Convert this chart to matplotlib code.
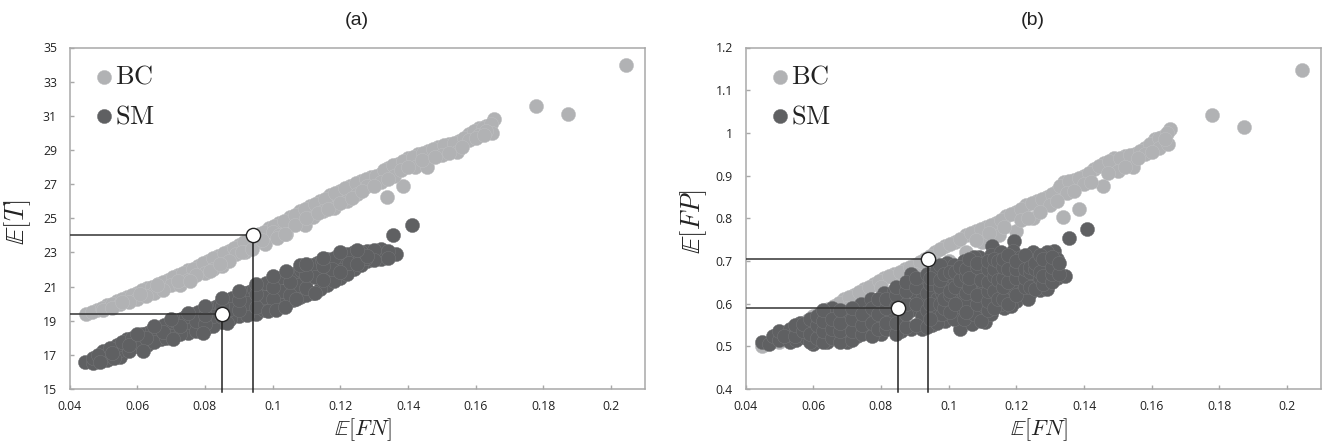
from matplotlib import pyplot as plt

plt.rcParams['mathtext.fontset'] = 'cm'
plt.rcParams['font.family'] = ['Open Sans', 'DejaVu Sans']

x_ticks = [0.04, 0.06, 0.08, 0.1, 0.12, 0.14, 0.16, 0.18, 0.2]
x_labels = ['0.04', '0.06', '0.08', '0.1', '0.12', '0.14', '0.16', '0.18', '0.2']
t_ticks = [15, 17, 19, 21, 23, 25, 27, 29, 31, 33, 35]
fp_ticks = [0.4, 0.5, 0.6, 0.7, 0.8, 0.9, 1, 1.1, 1.2]
fp_labels = ['0.4', '0.5', '0.6', '0.7', '0.8', '0.9', '1', '1.1', '1.2']

# panel (a): E[FN], E[T]
bc_a = [
    (.045, 19.4), (.048, 19.65), (.051, 19.9), (.054, 20.15), (.057, 20.4), (.06, 20.65), (.063, 20.9),
    (.066, 21.15), (.069, 21.4), (.072, 21.7), (.075, 21.95), (.078, 22.2), (.081, 22.5), (.084, 22.8),
    (.087, 23.1), (.09, 23.45), (.093, 23.75), (.096, 24.05), (.099, 24.4), (.102, 24.7), (.105, 25.05),
    (.108, 25.4), (.111, 25.7), (.114, 26.0), (.117, 26.35), (.12, 26.6), (.123, 26.9), (.126, 27.2),
    (.129, 27.4), (.132, 27.6), (.134, 27.95), (.137, 28.2), (.14, 28.5), (.143, 28.75), (.146, 28.95),
    (.149, 29.2), (.152, 29.35), (.155, 29.5), (.158, 29.95), (.161, 30.3), (.163, 30.4), (.1655, 30.8),
    (.0465, 19.5), (.0495, 19.75), (.0525, 20.0), (.0555, 20.25), (.0585, 20.5), (.0615, 20.8), (.0645, 21.0),
    (.0675, 21.25), (.0705, 21.55), (.0735, 21.8), (.0765, 22.05), (.0795, 22.35), (.0825, 22.65), (.0855, 22.95),
    (.0885, 23.25), (.0915, 23.6), (.0945, 23.9), (.0975, 24.2), (.1005, 24.55), (.1035, 24.85), (.1065, 25.2),
    (.1095, 25.55), (.1125, 25.85), (.1155, 26.15), (.1185, 26.45), (.1215, 26.75), (.1245, 27.05), (.1275, 27.3),
    (.1305, 27.5), (.133, 27.8), (.1355, 28.1), (.1385, 28.35), (.1415, 28.6), (.1445, 28.85), (.1475, 29.05),
    (.1505, 29.3), (.1535, 29.4), (.1565, 29.7), (.1595, 30.1), (.162, 30.3), (.1645, 30.5),
    (.05, 19.6), (.055, 20.0), (.06, 20.3), (.065, 20.6), (.07, 21.1), (.0726, 21.1), (.075, 21.4),
    (.08, 21.8), (.085, 22.2), (.0893, 22.9), (.0918, 23.0), (.0977, 23.5), (.095, 23.6), (.1, 24.2),
    (.104, 24.1), (.1095, 24.6), (.112, 25.1), (.115, 25.4), (.118, 25.6), (.122, 26.0), (.125, 26.4),
    (.128, 26.9), (.1337, 26.25), (.1385, 26.9), (.132, 27.1), (.136, 27.5), (.142, 28.0), (.1457, 28.0),
    (.15, 28.7), (.1546, 28.9), (.158, 29.6), (.161, 29.9), (.1647, 30.0), (.163, 30.1),
    (.0525, 19.75), (.0575, 20.1), (.0625, 20.45), (.0675, 20.8), (.072, 21.3), (.0775, 21.65), (.0825, 22.05),
    (.087, 22.5), (.091, 23.0), (.094, 23.2), (.097, 23.7), (.102, 24.0), (.1065, 24.6), (.11, 25.0),
    (.1135, 25.3), (.1165, 25.55), (.12, 25.9), (.1235, 26.2), (.1265, 26.6), (.13, 26.9), (.134, 27.3),
    (.138, 27.8), (.14, 28.0), (.144, 28.4), (.148, 28.6), (.152, 28.8), (.156, 29.2), (.16, 29.7), (.1625, 29.9),
    (.0755, 21.3), (.0815, 21.9), (.0844, 22.3), (.1012, 23.85), (.1036, 24.1), (.0555, 20.1), (.0608, 20.55),
    (.0657, 21.1),
    (.1779, 31.6), (.1873, 31.1), (.2045, 33.95),
]
sm_a = [
    (.0445, 16.6), (.047, 16.5), (.051, 16.7), (.055, 16.9), (.06, 17.5), (.063, 17.6), (.067, 17.9),
    (.07, 18.1), (.075, 18.3), (.08, 18.5), (.085, 18.9), (.09, 19.3), (.095, 19.4), (.1, 19.9),
    (.104, 20.0), (.108, 20.4), (.112, 20.6), (.116, 21.1), (.12, 21.5), (.124, 22.0), (.128, 22.5),
    (.132, 22.6), (.05, 16.95), (.055, 17.3), (.06, 17.8), (.065, 18.2), (.07, 18.5), (.075, 18.9),
    (.08, 19.1), (.085, 19.5), (.09, 19.9), (.095, 20.2), (.1, 20.6), (.105, 20.9), (.11, 21.3),
    (.115, 21.8), (.12, 22.2), (.125, 22.6), (.13, 22.8), (.047, 16.8), (.05, 17.2), (.054, 17.6),
    (.057, 17.9), (.06, 18.1), (.063, 18.3), (.066, 18.6), (.07, 18.9), (.073, 19.1), (.076, 19.4),
    (.08, 19.6), (.083, 19.8), (.086, 20.2), (.09, 20.5), (.093, 20.7), (.096, 21.0), (.1, 21.4),
    (.104, 21.6), (.107, 21.8), (.11, 22.1), (.113, 22.4), (.116, 22.6), (.12, 22.8), (.124, 23.0),
    (.128, 23.1), (.132, 23.2), (.1365, 22.9),
    (.0485, 17.0), (.052, 17.4), (.0555, 17.75), (.0585, 18.0), (.0615, 18.2), (.0645, 18.45), (.068, 18.75),
    (.0715, 19.0), (.0745, 19.25), (.078, 19.5), (.0815, 19.7), (.0845, 20.0), (.088, 20.35), (.0915, 20.6),
    (.0945, 20.85), (.098, 21.2), (.102, 21.5), (.1055, 21.7), (.1085, 21.95), (.1115, 22.25), (.1145, 22.5),
    (.118, 22.7), (.122, 22.9), (.126, 23.05), (.13, 23.15), (.134, 23.1),
    (.049, 16.6), (.053, 16.8), (.0575, 17.2), (.0615, 17.55), (.065, 17.75), (.0685, 18.0), (.0725, 18.2),
    (.0775, 18.4), (.0825, 18.7), (.0875, 19.1), (.0925, 19.35), (.0975, 19.65), (.102, 19.95), (.106, 20.2),
    (.11, 20.5), (.114, 20.85), (.118, 21.3), (.122, 21.75), (.126, 22.25), (.13, 22.55), (.134, 22.7),
    (.0525, 17.1), (.0575, 17.55), (.0625, 18.0), (.0675, 18.35), (.0725, 18.7), (.0775, 19.0), (.0825, 19.3),
    (.0875, 19.7), (.0925, 20.05), (.0975, 20.4), (.1025, 20.75), (.1075, 21.1), (.1125, 21.55), (.1175, 22.0),
    (.1225, 22.4), (.1275, 22.7), (.1, 20.25), (.1, 21.0), (.105, 20.5), (.105, 21.25), (.11, 20.9), (.11, 21.7),
    (.115, 21.4), (.115, 22.2), (.12, 21.85), (.09, 19.6), (.09, 20.2), (.095, 19.8), (.095, 20.55), (.085, 19.2),
    (.085, 19.85), (.08, 18.8), (.08, 19.35), (.125, 22.3), (.128, 22.8),
    (.06, 18.25), (.065, 18.7), (.07, 19.1), (.075, 19.45), (.08, 19.85), (.085, 20.35), (.09, 20.75),
    (.095, 21.15), (.1, 21.6), (.104, 21.9), (.108, 22.25), (.11, 22.3), (.115, 22.7), (.12, 23.0), (.125, 23.15),
    (.0985, 19.55), (.101, 19.65), (.1036, 19.8), (.107, 20.25), (.1124, 20.65), (.0795, 18.3), (.0866, 18.85),
    (.0705, 17.9), (.0617, 17.25),
    (.1355, 24.0), (.1412, 24.6),
]

# panel (b): E[FN], E[FP]
bc_b = [
    (.045, .5), (.048, .515), (.051, .53), (.054, .54), (.057, .555), (.06, .57), (.063, .58), (.066, .595),
    (.069, .61), (.072, .62), (.075, .635), (.078, .645), (.081, .66), (.084, .67), (.087, .68), (.09, .69),
    (.093, .705), (.096, .72), (.099, .735), (.102, .745), (.105, .76), (.108, .77), (.111, .78), (.114, .79),
    (.117, .805), (.12, .815), (.123, .83), (.126, .84), (.129, .85), (.132, .865), (.134, .885), (.137, .89),
    (.14, .9), (.143, .915), (.146, .93), (.149, .94), (.152, .945), (.155, .95), (.158, .965), (.161, .985),
    (.163, .99), (.1655, 1.01),
    (.0465, .507), (.0495, .522), (.0525, .535), (.0555, .548), (.0585, .562), (.0615, .575), (.0645, .588),
    (.0675, .602), (.0705, .615), (.0735, .628), (.0765, .64), (.0795, .652), (.0825, .665), (.0855, .675),
    (.0885, .685), (.0915, .697), (.0945, .712), (.0975, .727), (.1005, .74), (.1035, .752), (.1065, .765),
    (.1095, .775), (.1125, .785), (.1155, .797), (.1185, .81), (.1215, .822), (.1245, .835), (.1275, .845),
    (.1305, .857), (.133, .875), (.1355, .888), (.1385, .895), (.1415, .907), (.1445, .922), (.1475, .935),
    (.1505, .942), (.1535, .947), (.1565, .957), (.1595, .975), (.162, .988), (.1645, 1.0),
    (.1, .7), (.105, .72), (.11, .745), (.115, .76), (.12, .77), (.125, .8), (.13, .83), (.1337, .803),
    (.1384, .822), (.135, .86), (.14, .88), (.1455, .876), (.15, .91), (.1546, .92), (.158, .95), (.162, .965),
    (.1647, .975), (.108, .75), (.112, .765), (.1165, .78), (.1215, .795), (.1235, .8), (.127, .815), (.132, .84),
    (.137, .865), (.142, .885), (.147, .905), (.152, .92), (.156, .94), (.16, .955), (.164, .985),
    (.09, .67), (.095, .69), (.08, .64), (.07, .59), (.06, .55), (.05, .51),
    (.1779, 1.043), (.1873, 1.013), (.2045, 1.147),
]
sm_b = [
    (.045, .51), (.047, .505), (.048, .525), (.05, .515), (.05, .535), (.053, .51), (.053, .54), (.055, .515),
    (.055, .535), (.056, .555), (.058, .52), (.058, .55), (.06, .505), (.06, .54), (.06, .56), (.062, .525),
    (.062, .575), (.064, .51), (.064, .55), (.0655, .59), (.067, .525), (.067, .565), (.07, .51), (.07, .545),
    (.07, .58), (.073, .525), (.073, .56), (.074, .6), (.076, .54), (.076, .58), (.077, .61), (.08, .53),
    (.08, .565), (.08, .6), (.081, .625), (.083, .545), (.083, .58), (.084, .63), (.086, .535), (.086, .565),
    (.086, .605), (.089, .67), (.089, .54), (.089, .585), (.09, .625), (.092, .54), (.092, .57), (.092, .61),
    (.093, .65), (.095, .55), (.095, .59), (.096, .63), (.097, .665), (.0994, .695), (.099, .56), (.1, .6),
    (.1, .645), (.1035, .54), (.103, .585), (.103, .625), (.104, .67), (.106, .605), (.1068, .553),
    (.106, .69), (.108, .645), (.109, .71), (.11, .575), (.11, .615), (.11, .675), (.1107, .557),
    (.1128, .735), (.113, .6), (.114, .645), (.115, .695), (.1165, .59), (.117, .625), (.118, .665),
    (.1193, .747), (.119, .724), (.12, .605), (.121, .645), (.122, .69), (.124, .625), (.125, .665),
    (.125, .72), (.127, .632), (.128, .69), (.129, .655), (.13, .7), (.131, .724), (.132, .66),
    (.1345, .665),
    (.0515, .525), (.0545, .525), (.0545, .55), (.057, .535), (.057, .553), (.059, .51), (.059, .53), (.059, .565),
    (.061, .52), (.061, .55), (.061, .57), (.063, .51), (.063, .535), (.063, .56), (.063, .585), (.0655, .52),
    (.0655, .54), (.0655, .565), (.068, .51), (.068, .535), (.068, .555), (.068, .585), (.0715, .515), (.0715, .535),
    (.0715, .565), (.0715, .59), (.0745, .53), (.0745, .55), (.0745, .575), (.0775, .525), (.0775, .555), (.0775, .59),
    (.079, .54), (.079, .575), (.079, .61), (.0815, .54), (.0815, .555), (.0815, .59), (.0815, .61), (.0845, .53),
    (.0845, .555), (.0845, .595), (.0845, .62), (.0845, .64), (.0875, .545), (.0875, .575), (.0875, .6), (.0875, .63),
    (.0875, .65), (.0905, .55), (.0905, .6), (.0905, .64), (.0905, .66), (.0935, .545), (.0935, .585), (.0935, .625),
    (.0935, .67), (.0965, .555), (.0965, .575), (.0965, .61), (.0965, .65), (.0965, .68), (.098, .575), (.098, .625),
    (.1015, .565), (.1015, .615), (.1015, .66), (.1015, .69), (.1045, .565), (.1045, .605), (.1045, .645), (.1045, .7),
    (.1075, .575), (.1075, .625), (.1075, .665), (.1075, .71), (.1105, .595), (.1105, .64), (.1105, .695), (.1125, .575),
    (.1125, .62), (.1125, .66), (.1125, .715), (.1155, .6), (.1155, .675), (.1155, .72), (.1185, .595), (.1185, .64),
    (.1185, .695), (.1185, .71), (.1215, .625), (.1215, .67), (.1215, .71), (.1235, .61), (.1235, .65), (.1235, .7),
    (.1265, .65), (.1265, .705), (.129, .635), (.129, .68), (.129, .72), (.132, .68), (.132, .705), (.1295, .66),
    (.0945, .565), (.0945, .6), (.0945, .645), (.0945, .66), (.0975, .6), (.0975, .64), (.0975, .655), (.0975, .69),
    (.0985, .59), (.0985, .61), (.0985, .67), (.1005, .58), (.1005, .62), (.1005, .63), (.1005, .675), (.102, .6),
    (.102, .64), (.102, .675), (.1035, .655), (.1035, .685), (.105, .58), (.105, .625), (.105, .665), (.105, .68),
    (.106, .64), (.106, .66), (.106, .705), (.1085, .6), (.1085, .62), (.1085, .685), (.1085, .695), (.1095, .56),
    (.1095, .655), (.1115, .585), (.1115, .605), (.1115, .63), (.1115, .65), (.1115, .68), (.1115, .7), (.1135, .59),
    (.1135, .63), (.1135, .665), (.1135, .68), (.1135, .705), (.1145, .61), (.1145, .655), (.1145, .7), (.116, .61),
    (.116, .64), (.116, .66), (.116, .685), (.116, .705), (.1175, .6), (.1175, .65), (.1175, .68), (.1175, .715),
    (.12, .62), (.12, .66), (.12, .68), (.12, .7), (.1225, .64), (.1225, .66), (.1225, .68), (.1225, .715),
    (.124, .64), (.124, .675), (.124, .685), (.1255, .635), (.1255, .68), (.1255, .695), (.127, .66), (.127, .675),
    (.127, .715), (.128, .645), (.128, .665), (.128, .705), (.1305, .65), (.1305, .67), (.1305, .685), (.1305, .71),
    (.1325, .67), (.1325, .695),
    (.1357, .753), (.141, .775),
]

# coordinates of the two marked solutions
mark_a_x = [0.0943, 0.085]
mark_a_y = [24.0, 19.4]
mark_b_x = [0.094, 0.085]
mark_b_y = [0.705, 0.59]


def draw_panel(ax, bc, sm, mark_x, mark_y, y_ticks, y_labels, y_lim, y_name, title):
    bc_x, bc_y = zip(*bc)
    sm_x, sm_y = zip(*sm)
    ax.scatter(bc_x, bc_y, s=105, color='#b1b2b4', edgecolors='#c0c1c3', linewidths=0.3, label=r'$\mathrm{BC}$', zorder=2)
    ax.scatter(sm_x, sm_y, s=105, color='#5f6062', edgecolors='#77787a', linewidths=0.3, label=r'$\mathrm{SM}$', zorder=3)
    below = y_lim[0] - (y_lim[1] - y_lim[0]) * 0.008
    for mx, my in zip(mark_x, mark_y):
        ax.plot([0.04, mx], [my, my], color='#333333', lw=1.1, zorder=4)
        ax.plot([mx, mx], [below, my], color='#222222', lw=1.1, zorder=4, clip_on=False)
    ax.scatter(mark_x, mark_y, s=105, color='white', edgecolors='#222222', linewidths=1, zorder=5)

    ax.set_xlim(0.04, 0.21)
    ax.set_ylim(*y_lim)
    ax.set_xticks(x_ticks)
    ax.set_xticklabels(x_labels)
    ax.set_yticks(y_ticks)
    ax.set_yticklabels(y_labels)
    ax.tick_params(direction='in', length=3, width=1, color='#a8a8a8', labelsize=8.8, labelcolor='#222222')
    ax.tick_params(axis='x', pad=8)
    ax.tick_params(axis='y', pad=9)
    for side in ax.spines:
        ax.spines[side].set_color('#a8a8a8')
        ax.spines[side].set_linewidth(1.1)
    ax.set_xlabel(r'$\mathbb{E}[FN]$', fontsize=16, color='#222222')
    ax.set_ylabel(y_name, fontsize=19, color='#222222')
    ax.xaxis.set_label_coords(0.51, -0.08)
    ax.yaxis.set_label_coords(-0.064, 0.489)
    ax.set_title(title, fontsize=14, family='Liberation Sans', color='#222222', pad=16)
    ax.legend(loc='upper left', bbox_to_anchor=(0.014, 0.95), frameon=False, fontsize=19, labelcolor='#222222',
              handletextpad=-0.59, labelspacing=0.55, borderpad=0, borderaxespad=0)


fig = plt.figure(figsize=(13.25, 4.42), dpi=100)
w = 575.5 / 1325
h = 341.5 / 442
bottom = 1 - 389 / 442
ax1 = fig.add_axes([69.5 / 1325, bottom, w, h])
ax2 = fig.add_axes([745.5 / 1325, bottom, w, h])
draw_panel(ax1, bc_a, sm_a, mark_a_x, mark_a_y, t_ticks, [str(t) for t in t_ticks], (15, 35), r'$\mathbb{E}[T]$', '(a)')
draw_panel(ax2, bc_b, sm_b, mark_b_x, mark_b_y, fp_ticks, fp_labels, (0.4, 1.2), r'$\mathbb{E}[FP]$', '(b)')
plt.savefig('out.png', dpi=100)
plt.close()
